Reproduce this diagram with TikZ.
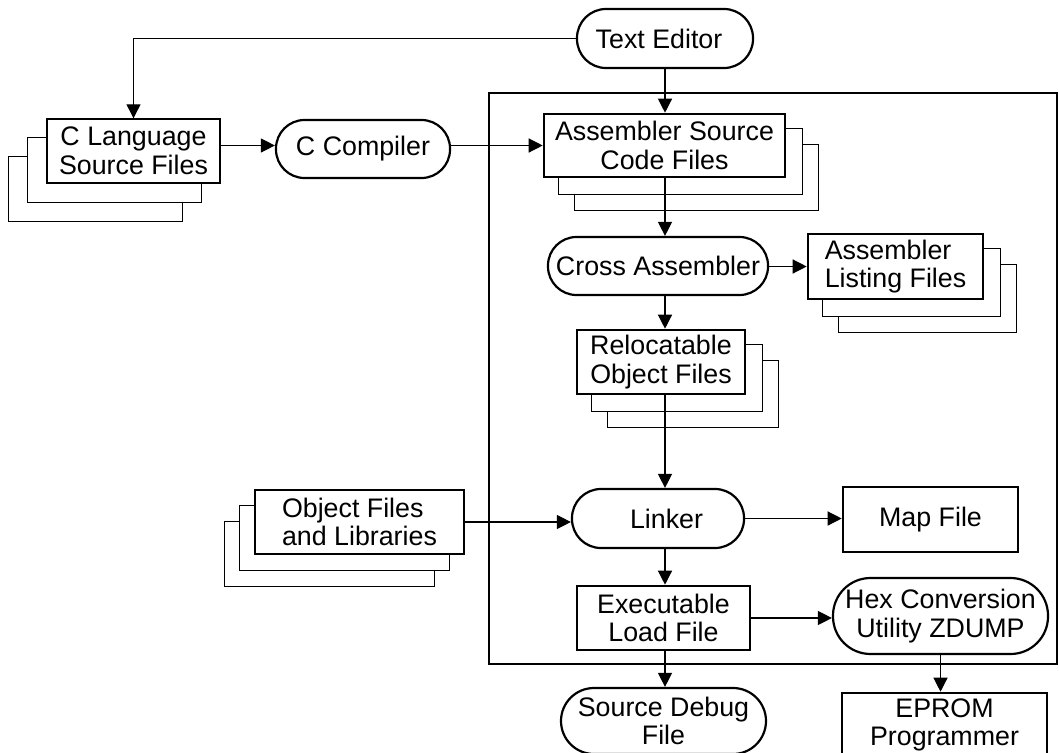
\documentclass[tikz,border=0pt]{standalone}
\usepackage{fontspec}
\usetikzlibrary{arrows.meta}
\newfontfamily\lblfont{Liberation Sans}
\newcommand\lbl{\lblfont\fontsize{26.8}{28.5}\selectfont}
\pgfdeclarelayer{background}
\pgfsetlayers{background,main}
% two paper sheets stacked behind a file box, offset by (#2,#3)
\newcommand\filestack[3]{%
  \begin{pgfonlayer}{background}
    \draw[sheet] ([shift={(2*#2,2*#3)}]#1.north west) rectangle ([shift={(2*#2,2*#3)}]#1.south east);
    \draw[sheet] ([shift={(#2,#3)}]#1.north west) rectangle ([shift={(#2,#3)}]#1.south east);
  \end{pgfonlayer}}
\tikzset{
  box/.style={draw, rectangle, line width=2.6pt, fill=white, inner sep=0pt, align=center, font=\lbl},
  thinbox/.style={box, line width=1.4pt},
  stad/.style={draw, rectangle, rounded corners=#1, line width=2.2pt, fill=white, inner sep=0pt, align=center, font=\lbl},
  sheet/.style={draw, fill=white, line width=1.3pt},
  conn/.style={line width=1.3pt},
  arr/.style={conn, -{Triangle[length=14pt,width=14pt]}},
  frame/.style={draw, rectangle, line width=2.6pt, inner sep=0pt}
}
\begin{document}
\begin{tikzpicture}[x=1pt, y=-1pt]
\useasboundingbox (0,0) rectangle (1059,752);

% toolchain frame
\node[frame, minimum width=568pt, minimum height=571pt] (frame) at (773,378.5) {};

% nodes
\node[stad=29pt, minimum width=176pt, minimum height=59pt] (ted) at (665,38.5) {Text Editor\hspace*{12pt}};
\node[thinbox, minimum width=173pt, minimum height=64pt] (clang) at (133.5,151) {C Language\\Source Files};
\node[stad=28.5pt, minimum width=174pt, minimum height=58pt] (ccomp) at (363,149) {C Compiler};
\node[box, minimum width=241pt, minimum height=63pt] (asm) at (664.5,145.5) {Assembler Source\\Code Files};
\node[stad=28.5pt, minimum width=220pt, minimum height=58pt] (xasm) at (658,266) {Cross Assembler};
\node[box, align=left, minimum width=175pt, minimum height=65pt] (lst) at (895.5,266.5) {Assembler\\Listing Files};
\node[box, minimum width=168pt, minimum height=64pt] (rel) at (661,362) {Relocatable\\Object Files};
\node[stad=29pt, minimum width=172pt, minimum height=59pt] (linker) at (658,518.5) {\hspace*{17pt}Linker};
\node[box, minimum width=175pt, minimum height=65pt] (map) at (930.5,519.5) {Map File};
\node[thinbox, align=left, minimum width=209pt, minimum height=64pt] (obj) at (359.5,522) {Object Files\\and Libraries};
\node[box, minimum width=173pt, minimum height=64pt] (exe) at (663.5,618) {Executable\\Load File};
\node[stad=37.5pt, minimum width=215pt, minimum height=76pt] (hex) at (940.5,616) {Hex Conversion\\Utility ZDUMP};
\node[stad=33pt, minimum width=205pt, minimum height=66pt] (dbg) at (663.5,721) {Source Debug\\File};
\node[box, minimum width=205pt, minimum height=64pt] (eprom) at (944.5,725) {EPROM\\Programmer};

% stacked sheets behind the file boxes
\filestack{clang}{-19}{19}
\filestack{obj}{-15}{16}
\filestack{asm}{16}{16}
\filestack{lst}{16}{16}
\filestack{rel}{16}{16}

% main column of the tool flow
\coordinate (col) at (665,0);

% connectors
\draw[arr] (ted.west) -| (clang.north);
\draw[arr] (clang.east |- asm.west) -- (ccomp.west |- asm.west);
\draw[arr] (ccomp.east |- asm.west) -- (asm.west);
\draw[arr] (ted.south -| col) -- (asm.north -| col);
\draw[arr] (asm.south -| col) -- (xasm.north -| col);
\draw[arr] (xasm.east |- lst.west) -- (lst.west);
\draw[arr] (xasm.south -| col) -- (rel.north -| col);
\draw[arr] (rel.south -| col) -- (linker.north -| col);
\draw[arr] (obj.east) -- (obj.east -| linker.west);
\draw[arr] (linker.east) -- (linker.east -| map.west);
\draw[arr] (linker.south -| col) -- (exe.north -| col);
\draw[arr] (exe.east) -- (exe.east -| hex.west);
\draw[arr] (exe.south -| col) -- (dbg.north -| col);
\draw[arr] (hex.south) -- (hex.south |- eprom.north);
\end{tikzpicture}
\end{document}
